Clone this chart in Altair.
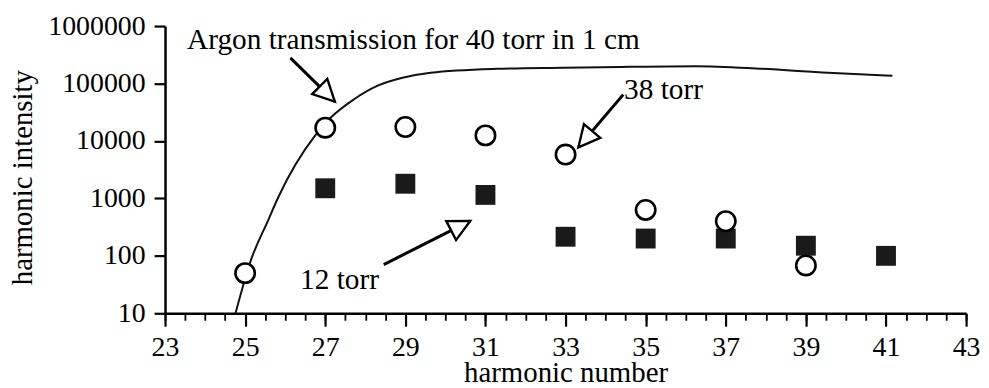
import altair as alt
import pandas as pd

# 38 torr (open circles)
harm_38 = [25, 27, 29, 31, 33, 35, 37, 39]
int_38 = [50, 17000, 17500, 12500, 5800, 630, 400, 68]
# 12 torr (filled squares)
harm_12 = [27, 29, 31, 33, 35, 37, 39, 41]
int_12 = [1500, 1800, 1150, 215, 200, 200, 150, 100]
# Argon transmission curve (scaled)
curve_h = [24.76, 25.13, 25.58, 25.83, 26.75, 27.14, 27.71, 28.31, 28.93, 29.63,
           31.29, 32.95, 34.59, 36.25, 37.91, 39.55, 41.16]
curve_t = [10, 79, 424, 1057, 12500, 25600, 52700, 91600, 126000, 154000,
           180000, 188000, 195000, 200000, 180000, 154000, 136000]

# annotations
label_text = ["Argon transmission for 40 torr in 1 cm", "38 torr", "12 torr"]
label_x = [23.55, 34.46, 26.37]
label_y = [398000, 54600, 26]
arrow_x = [26.13, 34.44, 28.46]
arrow_y = [279000, 64000, 70.5]
arrow_x2 = [27.24, 33.32, 30.62]
arrow_y2 = [48400, 7740, 406]
arrow_angle = [135, 220, 63]

major_ticks = list(range(23, 44, 2))
minor_ticks = [23 + 0.5 * i for i in range(41)]
y_ticks = [10, 100, 1000, 10000, 100000, 1000000]

FONT = "Liberation Serif"
LFS = 28   # tick labels
TFS = 29   # axis titles
AFS = 29.5 # annotations

df38 = pd.DataFrame({"h": harm_38, "v": int_38})
df12 = pd.DataFrame({"h": harm_12, "v": int_12})
dfc = pd.DataFrame({"h": curve_h, "v": curve_t})
dft = pd.DataFrame({"h": label_x, "v": label_y, "t": label_text})
dfa = pd.DataFrame({"h": arrow_x, "v": arrow_y, "h2": arrow_x2, "v2": arrow_y2, "a": arrow_angle})

xs = alt.Scale(domain=[23, 43], nice=False, zero=False)
ys = alt.Scale(type="log", domain=[10, 1000000], nice=False)

minor_axis = alt.Axis(orient="bottom", values=minor_ticks, labels=False, title=None, grid=False,
                      domain=True, domainColor="black", domainWidth=2.5,
                      tickColor="black", tickSize=7, tickWidth=1.8)
major_axis = alt.Axis(orient="bottom", values=major_ticks, grid=False, domain=False,
                      tickColor="black", tickSize=13, tickWidth=2.2,
                      labelFont=FONT, labelFontSize=LFS, labelColor="black",
                      labelPadding=7, labelFlush=False, labelOverlap=False,
                      title="harmonic number", titleFont=FONT, titleFontSize=TFS,
                      titleFontWeight="normal", titleColor="black",
                      titleY=69, titleBaseline="alphabetic")
y_axis = alt.Axis(orient="left", values=y_ticks, format="d", grid=False,
                  domain=True, domainColor="black", domainWidth=2.5,
                  tickColor="black", tickSize=11, tickWidth=2.2,
                  labelFont=FONT, labelFontSize=LFS, labelColor="black",
                  labelPadding=9, labelFlush=False, labelOverlap=False,
                  title="harmonic intensity", titleFont=FONT, titleFontSize=TFS,
                  titleFontWeight="normal", titleColor="black",
                  titleX=-143, titleY=152, titleAngle=270,
                  titleAlign="center", titleBaseline="middle")

curve = alt.Chart(dfc).mark_line(color="#111", strokeWidth=2, interpolate="monotone").encode(
    x=alt.X("h:Q", scale=xs, axis=minor_axis),
    y=alt.Y("v:Q", scale=ys, axis=y_axis),
)
squares = alt.Chart(df12).mark_square(size=400, color="#1a1a1a", opacity=1).encode(
    x=alt.X("h:Q", scale=xs, axis=major_axis),
    y=alt.Y("v:Q", scale=ys, axis=y_axis),
)
circles = alt.Chart(df38).mark_circle(size=380, fill="white", stroke="black", strokeWidth=2.6, opacity=1).encode(
    x=alt.X("h:Q", scale=xs, axis=None),
    y=alt.Y("v:Q", scale=ys, axis=y_axis),
)
lines = alt.Chart(dfa).mark_rule(color="black", strokeWidth=3).encode(
    x=alt.X("h:Q", scale=xs, axis=None),
    y=alt.Y("v:Q", scale=ys, axis=y_axis),
    x2="h2:Q",
    y2="v2:Q",
)
heads = alt.Chart(dfa).mark_point(shape="M0,0L-0.5,1L0.5,1Z", size=1850, filled=True,
                                  fill="white", stroke="black", strokeWidth=2.4, opacity=1).encode(
    x=alt.X("h2:Q", scale=xs, axis=None),
    y=alt.Y("v2:Q", scale=ys, axis=y_axis),
    angle=alt.Angle("a:Q", scale=None),
)
texts = alt.Chart(dft).mark_text(font=FONT, fontSize=AFS, align="left", baseline="alphabetic", color="black").encode(
    x=alt.X("h:Q", scale=xs, axis=None),
    y=alt.Y("v:Q", scale=ys, axis=y_axis),
    text="t:N",
)

chart = alt.layer(curve, lines, heads, squares, circles, texts).resolve_axis(x="independent").properties(
    width=806, height=289,
    autosize=alt.AutoSizeParams(type="none"),
    padding={"left": 158, "top": 17, "right": 15, "bottom": 73},
    background="white",
).configure_view(stroke=None)

chart.save("out.html", embed_options={"renderer": "svg", "actions": False})
